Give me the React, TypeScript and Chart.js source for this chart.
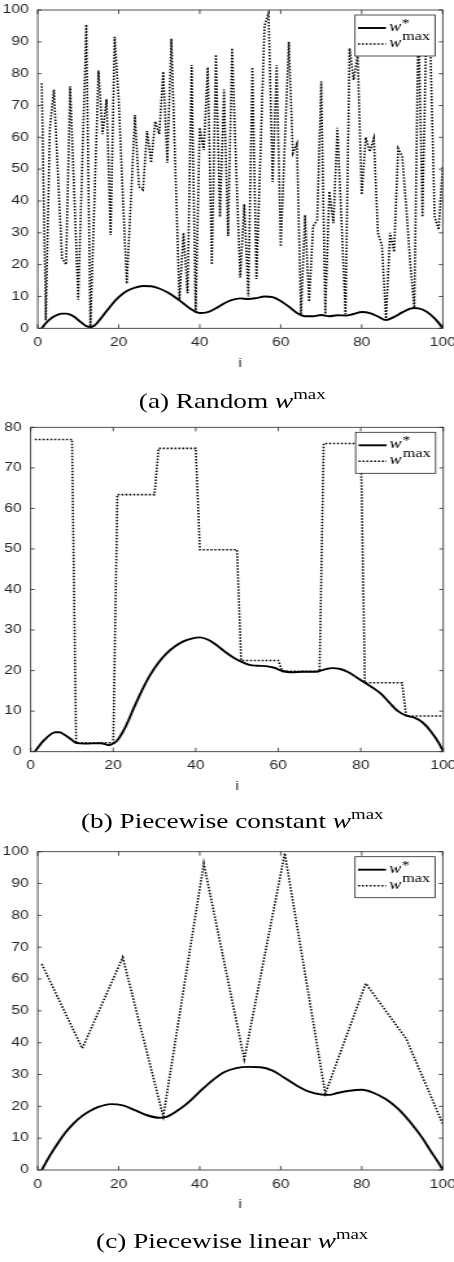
import React, { useEffect, useRef } from 'react';
import { Chart, registerables } from 'chart.js';

Chart.register(...registerables);

// ---------- data ----------
// (a) Random w^max, i = 1..100
const aIndex = Array.from({ length: 100 }, (_, k) => k + 1);
const aWmax = [
  77, 2.5, 63, 75, 48, 22, 20, 76, 43, 9,
  52, 95.4, 0.5, 40, 81, 61, 72, 29.3, 91.6, 72,
  42, 14, 40, 67, 44.5, 43.5, 62, 52, 65, 61,
  80.6, 52, 91, 50, 9, 30, 11, 82.7, 4.7, 63,
  56, 82, 20, 86, 35, 75, 29, 88, 50, 16,
  39, 10, 82, 15.5, 55, 95, 99, 46, 82.7, 25.7,
  58, 90, 55, 58, 4.2, 35.6, 8.4, 32, 34, 77.5,
  4.5, 43, 33, 63, 34, 4.5, 88, 78, 86, 42,
  60, 55.5, 59.7, 30, 26, 2.6, 30, 24, 56.5, 54,
  38, 20, 6.4, 98, 35, 97, 86, 35, 31, 51,
];
const aWstarIdx = [
  1, 2, 3, 4, 5, 6, 7, 8, 9, 10, 11, 12, 13, 14, 15, 16, 17, 18, 19, 20,
  22, 24, 26, 28, 30, 32, 34, 36, 38, 40, 42, 44, 46, 48, 50, 52, 54, 56, 58, 60,
  62, 64, 66, 68, 70, 72, 74, 76, 78, 80, 82, 84, 86, 88, 90, 92, 93, 95, 97, 99, 100,
];
const aWstar = [
  0, 1.6, 2.8, 3.7, 4.3, 4.6, 4.6, 4.3, 3.6, 2.6, 1.6, 0.7, 0.4, 0.9, 2.2, 3.8, 5.4, 7, 8.5, 9.8,
  11.7, 12.8, 13.3, 13.2, 12.5, 11.3, 9.7, 7.8, 5.9, 4.8, 5.1, 6.3, 7.8, 8.9, 9.4, 9.2, 9.5, 10, 9.8, 8.6,
  6.8, 4.8, 3.8, 3.8, 4.2, 3.8, 4.1, 4.0, 4.5, 5.1, 4.8, 3.7, 2.6, 3.6, 5.0, 6.2, 6.4, 5.9, 4.3, 1.7, 0,
];

// (b) Piecewise constant w^max
const bSegStart = [1, 11, 21, 31, 41, 51, 61, 71, 81, 91];
const bSegEnd = [10, 20, 30, 40, 50, 60, 70, 80, 90, 100];
const bWmaxLevels = [77, 2.2, 63.4, 74.8, 49.8, 22.5, 19.8, 76, 17, 8.8];
const bWstarIdx = [
  1, 3, 5, 6, 7, 8, 10, 11, 13, 17, 19, 20, 21, 23, 25, 27, 29, 31, 33, 35, 37, 39, 41, 43, 45,
  47, 49, 51, 53, 55, 57, 59, 61, 63, 66, 69, 71, 73, 75, 77, 79, 81, 83, 85, 87, 89, 91, 93, 95, 97, 99, 100,
];
const bWstar = [
  0, 2.6, 4.4, 4.8, 4.8, 4.3, 2.9, 2.1, 2.0, 2.1, 1.6, 2.0, 2.8, 6.2, 10.8, 15.2, 19, 22, 24.3, 26, 27.2, 27.9, 28.2, 27.6, 26.3,
  24.7, 23.3, 22.2, 21.4, 21.2, 21.1, 20.7, 19.9, 19.6, 19.7, 19.7, 20.2, 20.6, 20.4, 19.6, 18.3, 17, 15.7, 14.2, 12, 10, 8.9, 8.4, 7.2, 5, 2, 0,
];

// (c) Piecewise linear w^max
const cKnotIdx = [1, 11, 21, 31, 41, 51, 61, 71, 81, 91, 100];
const cWmax = [64.7, 38.2, 66.8, 16.8, 96.3, 34.8, 99.5, 24, 58.6, 41.2, 14.5];
const cWstarIdx = [
  1, 3, 5, 7, 9, 11, 13, 15, 18, 21, 24, 27, 30, 32, 34, 37, 40, 43, 46, 49,
  52, 55, 58, 61, 64, 67, 70, 72, 74, 77, 80, 83, 86, 89, 92, 95, 97, 99, 100,
];
const cWstar = [
  0, 4.5, 8.5, 12, 14.8, 17, 18.6, 19.8, 20.7, 20.3, 18.8, 17.2, 16.4, 16.8, 18.2, 21, 24.6, 28, 30.7, 32,
  32.4, 32.3, 31.2, 28.9, 26.5, 24.6, 23.7, 23.6, 24.2, 24.9, 25.2, 24.2, 22.2, 19.2, 15, 10, 6, 2.2, 0,
];

// ---------- layout ----------
const CW = 350; // canvas width before horizontal stretch
const SX = 454 / CW;
const CH = 380;
const INK = '#262626';
const TICK_FONT = { family: '"Liberation Sans", Arial, sans-serif', size: 12 };

type Pt = { x: number; y: number };
const zip = (xs: number[], ys: number[]): Pt[] => xs.map((x, k) => ({ x, y: ys[k] }));

const framePlugin = {
  id: 'matlabFrame',
  afterDatasetsDraw(chart: any) {
    const { ctx, chartArea: a, scales } = chart;
    ctx.save();
    ctx.strokeStyle = INK;
    ctx.lineWidth = 0.8;
    ctx.setLineDash([]);
    ctx.strokeRect(a.left, a.top, a.right - a.left, a.bottom - a.top);
    const tlY = 4;
    const tlX = 4 / SX;
    ctx.beginPath();
    for (const t of scales.x.ticks) {
      const px = scales.x.getPixelForValue(t.value);
      ctx.moveTo(px, a.bottom);
      ctx.lineTo(px, a.bottom - tlY);
      ctx.moveTo(px, a.top);
      ctx.lineTo(px, a.top + tlY);
    }
    for (const t of scales.y.ticks) {
      const py = scales.y.getPixelForValue(t.value);
      ctx.moveTo(a.left, py);
      ctx.lineTo(a.left + tlX, py);
      ctx.moveTo(a.right, py);
      ctx.lineTo(a.right - tlX, py);
    }
    ctx.stroke();

    // legend
    const w = 80 / SX;
    const h = 41;
    const right = a.right - 7.7 / SX;
    const left = right - w;
    const top = a.top + 5;
    ctx.fillStyle = '#fff';
    ctx.fillRect(left, top, w, h);
    ctx.strokeStyle = INK;
    ctx.lineWidth = 0.8;
    ctx.strokeRect(left, top, w, h);
    const s0 = left + 3 / SX;
    const s1 = left + 31 / SX;
    const tx = left + 34 / SX;
    const r1 = top + 13;
    const r2 = top + 29;
    ctx.strokeStyle = '#000';
    ctx.lineWidth = 1.9;
    ctx.beginPath();
    ctx.moveTo(s0, r1);
    ctx.lineTo(s1, r1);
    ctx.stroke();
    ctx.lineWidth = 1.6;
    ctx.setLineDash([1.5, 1.5]);
    ctx.beginPath();
    ctx.moveTo(s0, r2);
    ctx.lineTo(s1, r2);
    ctx.stroke();
    ctx.setLineDash([]);
    ctx.fillStyle = '#000';
    ctx.textBaseline = 'alphabetic';
    ctx.textAlign = 'left';
    ctx.font = 'italic 14px "Liberation Serif", serif';
    const ww = ctx.measureText('w').width;
    ctx.fillText('w', tx, r1 + 3);
    ctx.fillText('w', tx, r2 + 3);
    ctx.font = '12px "Liberation Serif", serif';
    ctx.fillText('*', tx + ww + 0.5, r1 - 1);
    ctx.font = '12.5px "Liberation Serif", serif';
    ctx.fillText('max', tx + ww + 0.8, r2 - 4);
    ctx.restore();
  },
};

type PanelProps = {
  top: number;
  wmax: Pt[];
  wstar: Pt[];
  yMax: number;
  plotLeft: number; // page px
  plotRight: number; // page px
  plotTop: number; // relative to canvas
  plotBottom: number; // relative to canvas
  xH: number;
  caption: string;
  captionTop: number;
};

function Panel(p: PanelProps) {
  const ref = useRef<HTMLCanvasElement | null>(null);
  useEffect(() => {
    if (!ref.current) return;
    const leftC = p.plotLeft / SX;
    const rightC = p.plotRight / SX;
    const chart = new Chart(ref.current, {
      type: 'line',
      data: {
        datasets: [
          {
            label: 'w*',
            data: p.wstar,
            borderColor: '#000',
            borderWidth: 1.9,
            pointRadius: 0,
            cubicInterpolationMode: 'monotone',
            fill: false,
          },
          {
            label: 'wmax',
            data: p.wmax,
            borderColor: '#000',
            borderWidth: 1.6,
            borderDash: [1.5, 1.5],
            pointRadius: 0,
            tension: 0,
            fill: false,
          },
        ],
      },
      options: {
        responsive: false,
        maintainAspectRatio: false,
        animation: false,
        events: [],
        layout: {
          padding: {
            left: 0,
            right: CW - rightC,
            top: p.plotTop,
            bottom: CH - p.plotBottom - p.xH,
          },
        },
        plugins: {
          legend: { display: false },
          tooltip: { enabled: false },
        },
        scales: {
          x: {
            type: 'linear',
            min: 0,
            max: 100,
            grid: { display: false, drawTicks: false },
            border: { display: false },
            ticks: {
              stepSize: 20,
              padding: 7,
              color: INK,
              font: TICK_FONT,
              maxRotation: 0,
              autoSkip: false,
            },
            title: {
              display: true,
              text: 'i',
              color: INK,
              font: TICK_FONT,
              padding: 0,
            },
            afterFit: (s: any) => {
              s.height = p.xH;
              s.paddingLeft = 0;
              s.paddingRight = 0;
            },
          },
          y: {
            type: 'linear',
            min: 0,
            max: p.yMax,
            grid: { display: false, drawTicks: false },
            border: { display: false },
            ticks: {
              stepSize: 10,
              padding: 7,
              color: INK,
              font: TICK_FONT,
            },
            afterFit: (s: any) => {
              s.width = leftC;
              s.paddingTop = 0;
              s.paddingBottom = 0;
            },
          },
        },
      } as any,
      plugins: [framePlugin],
    });
    return () => chart.destroy();
  }, []);

  return (
    <>
      <canvas
        ref={ref}
        width={CW}
        height={CH}
        style={{ position: 'absolute', left: 0, top: p.top, width: CW, height: CH, display: 'block' }}
      />
      <div
        style={{
          position: 'absolute',
          left: 0,
          width: 358,
          top: p.captionTop,
          height: 24,
          lineHeight: '24px',
          textAlign: 'center',
          fontFamily: '"Liberation Serif", serif',
          fontSize: 21,
          color: '#000',
          whiteSpace: 'nowrap',
        }}
      >
        {p.caption} <i>w</i>
        <span style={{ fontSize: 14.5, position: 'relative', top: -9 }}>max</span>
      </div>
    </>
  );
}

// build plotting tables
const aWmaxPts = zip(aIndex, aWmax);
const aWstarPts = zip(aWstarIdx, aWstar);
const bWmaxPts: Pt[] = bSegStart.flatMap((s, k) => [
  { x: s, y: bWmaxLevels[k] },
  { x: bSegEnd[k], y: bWmaxLevels[k] },
]);
const bWstarPts = zip(bWstarIdx, bWstar);
const cWmaxPts = zip(cKnotIdx, cWmax);
const cWstarPts = zip(cWstarIdx, cWstar);

export default function App() {
  return (
    <div
      style={{
        position: 'absolute',
        left: 0,
        top: 0,
        width: 454,
        height: 1262,
        overflow: 'hidden',
        background: '#fff',
      }}
    >
      <div
        style={{
          position: 'absolute',
          left: 0,
          top: 0,
          width: CW,
          height: 1262,
          transform: `scaleX(${SX})`,
          transformOrigin: '0 0',
        }}
      >
        <Panel
          top={0}
          wmax={aWmaxPts}
          wstar={aWstarPts}
          yMax={100}
          plotLeft={37.7}
          plotRight={442.7}
          plotTop={10}
          plotBottom={328.3}
          xH={42.2}
          caption="(a) Random"
          captionTop={389}
        />
        <Panel
          top={417}
          wmax={bWmaxPts}
          wstar={bWstarPts}
          yMax={80}
          plotLeft={30.7}
          plotRight={443.3}
          plotTop={10.3}
          plotBottom={334.7}
          xH={42.5}
          caption="(b) Piecewise constant"
          captionTop={809}
        />
        <Panel
          top={842}
          wmax={cWmaxPts}
          wstar={cWstarPts}
          yMax={100}
          plotLeft={37.7}
          plotRight={442.7}
          plotTop={9.7}
          plotBottom={328}
          xH={42.2}
          caption="(c) Piecewise linear"
          captionTop={1229}
        />
      </div>
    </div>
  );
}
